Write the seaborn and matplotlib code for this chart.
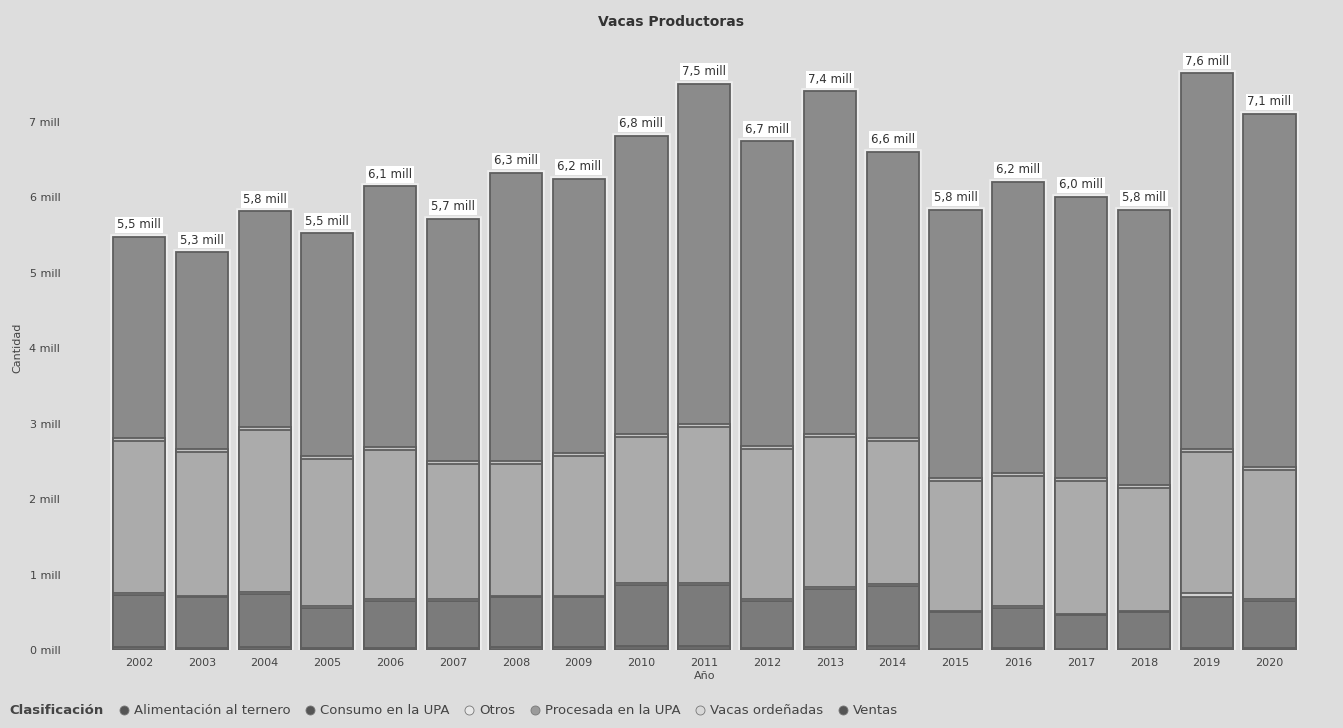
import numpy as np
import pandas as pd
import matplotlib
matplotlib.use("Agg")
import matplotlib.pyplot as plt
from matplotlib.lines import Line2D
import seaborn as sns

years = [str(y) for y in range(2002, 2021)]

# values in millions
alimentacion = [0.04, 0.03, 0.04, 0.03, 0.03, 0.03, 0.04, 0.04, 0.05, 0.05, 0.03, 0.04, 0.05, 0.02, 0.03, 0.02, 0.02, 0.03, 0.03]
consumo = [0.69, 0.67, 0.70, 0.53, 0.62, 0.62, 0.66, 0.66, 0.81, 0.81, 0.62, 0.77, 0.80, 0.48, 0.53, 0.44, 0.48, 0.67, 0.62]
otros = [0.02, 0.02, 0.03, 0.02, 0.02, 0.02, 0.02, 0.02, 0.03, 0.03, 0.02, 0.02, 0.03, 0.02, 0.02, 0.02, 0.02, 0.05, 0.02]
procesada = [2.02, 1.90, 2.14, 1.95, 1.98, 1.79, 1.74, 1.85, 1.93, 2.07, 1.99, 1.99, 1.89, 1.72, 1.72, 1.76, 1.63, 1.87, 1.71]
vacas = [0.04, 0.04, 0.04, 0.04, 0.04, 0.04, 0.04, 0.04, 0.04, 0.04, 0.04, 0.04, 0.04, 0.04, 0.04, 0.04, 0.04, 0.04, 0.04]
ventas = [2.66, 2.61, 2.86, 2.95, 3.45, 3.21, 3.82, 3.63, 3.95, 4.50, 4.04, 4.54, 3.79, 3.55, 3.86, 3.72, 3.64, 4.98, 4.68]

series_names = ["Alimentación al ternero", "Consumo en la UPA", "Otros",
                "Procesada en la UPA", "Vacas ordeñadas", "Ventas"]
series_vals = [alimentacion, consumo, otros, procesada, vacas, ventas]
series_colors = ["#6a6a6a", "#7b7b7b", "#d2d2d2", "#ababab", "#c4c4c4", "#8b8b8b"]
legend_face = ["#555555", "#555555", "#e8e8e8", "#9a9a9a", "#d8d8d8", "#555555"]

ytick_vals = [0, 1, 2, 3, 4, 5, 6, 7]
ytick_labels = ["0 mill", "1 mill", "2 mill", "3 mill", "4 mill", "5 mill", "6 mill", "7 mill"]

sns.set_theme(style="white")
bg = "#dddddd"
fig = plt.figure(figsize=(13.43, 7.28), dpi=100, facecolor=bg)
ax = fig.add_axes([0.0801, 0.1071, 0.8886, 0.8297])
ax.set_facecolor(bg)

df = pd.DataFrame({"Año": years})
for n, v in zip(series_names, series_vals):
    df[n] = v
cum = df[series_names].cumsum(axis=1)
totals = cum[series_names[-1]]

# white halo under bars
sns.barplot(x=df["Año"], y=totals, color="#eeeeee", saturation=1, width=0.83,
            edgecolor="#eeeeee", linewidth=4, ax=ax, zorder=1)
# draw cumulative stacks from top to bottom
for i in range(len(series_names) - 1, -1, -1):
    sns.barplot(x=df["Año"], y=cum[series_names[i]], color=series_colors[i],
                saturation=1, width=0.83, edgecolor="#5e5e5e", linewidth=1.3,
                ax=ax, zorder=2)

for xi, t in enumerate(totals):
    lab = f"{t:.1f}".replace(".", ",") + " mill"
    ax.annotate(lab, (xi, t), xytext=(0, 4), textcoords="offset points",
                ha="center", va="bottom", fontsize=8.5, color="#333333",
                bbox=dict(boxstyle="square,pad=0.15", fc="white", ec="none"),
                zorder=5)

ax.set_xlim(-0.5, len(years) - 0.5)
ax.set_ylim(0, 8.0)
ax.set_yticks(ytick_vals)
ax.set_yticklabels(ytick_labels)
ax.tick_params(axis="x", labelsize=8, colors="#444444", length=0, pad=6)
ax.tick_params(axis="y", labelsize=8, colors="#444444", length=0, pad=34)
ax.set_xlabel("Año", fontsize=8, color="#444444", labelpad=2)
ax.set_ylabel("Cantidad", fontsize=8, color="#444444", labelpad=5)
for s in ax.spines.values():
    s.set_visible(False)

fig.text(0.5, 0.97, "Vacas Productoras", ha="center", va="center",
         fontsize=10, fontweight="bold", color="#333333")

handles = [Line2D([], [], linestyle="none", marker="")]
labels = ["Clasificación"]
for n, fc in zip(series_names, legend_face):
    handles.append(Line2D([], [], linestyle="none", marker="o", markersize=6.5,
                          markerfacecolor=fc, markeredgecolor="#777777", markeredgewidth=0.6))
    labels.append(n)
leg = fig.legend(handles, labels, loc="lower left", bbox_to_anchor=(-0.011, 0.0),
                 ncol=7, frameon=False, fontsize=9.5, handlelength=0.6,
                 handletextpad=0.45, columnspacing=1.2, borderaxespad=0.6,
                 borderpad=0.2)
for t in leg.get_texts():
    t.set_color("#444444")
leg.get_texts()[0].set_fontweight("bold")

fig.savefig("out.png", dpi=100, facecolor=bg)
